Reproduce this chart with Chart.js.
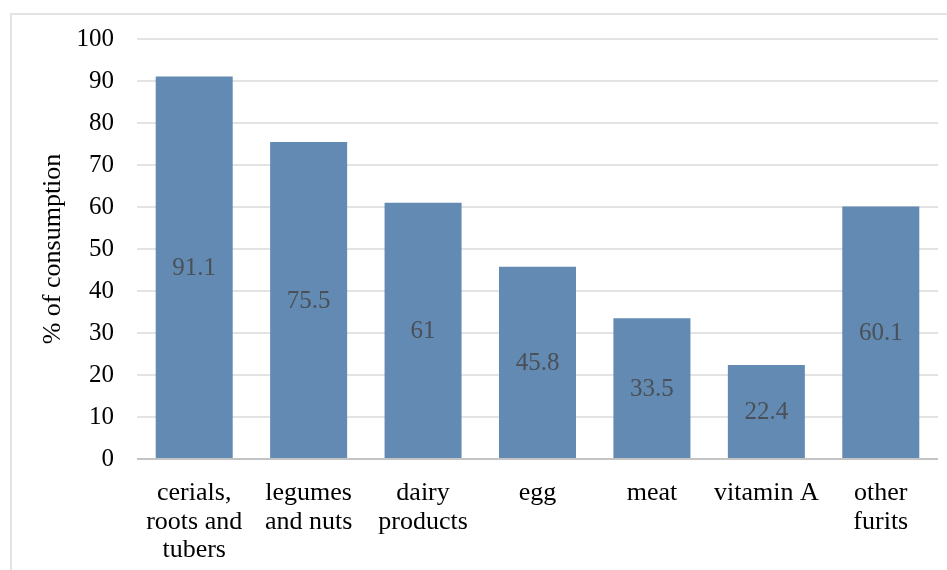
<!DOCTYPE html>
<html>
<head>
<meta charset="utf-8">
<script src="https://cdn.jsdelivr.net/npm/chart.js@4"></script>
<style>
  html, body { margin: 0; padding: 0; background: #fff; overflow: hidden; }
  #wrap { position: relative; width: 947px; height: 570px; }
  #frame { position: absolute; left: 10px; top: 13px; width: 960px; height: 600px;
           border-left: 2px solid #e3e3e3; border-top: 2px solid #e3e3e3; }
  #c { position: absolute; left: 0; top: 0; }
</style>
</head>
<body>
<div id="wrap">
  <div id="frame"></div>
  <canvas id="c" width="947" height="570"></canvas>
</div>
<script>
var categories = [
	['cerials,', 'roots and', 'tubers'],
	['legumes', 'and nuts'],
	['dairy', 'products'],
	'egg',
	'meat',
	'vitamin A',
	['other', 'furits']
];
var consumption = [91.1, 75.5, 61, 45.8, 33.5, 22.4, 60.1];
var valueText = ['91.1', '75.5', '61', '45.8', '33.5', '22.4', '60.1'];
var yTicks = [0, 10, 20, 30, 40, 50, 60, 70, 80, 90, 100];

var serif = "'Liberation Serif', 'Times New Roman', serif";

// write the number in the middle of each bar
var barValues = {
	id: 'barValues',
	afterDatasetsDraw: function(chart) {
		var ctx = chart.ctx;
		var meta = chart.getDatasetMeta(0);
		ctx.save();
		ctx.font = '25px ' + serif;
		ctx.fillStyle = '#4a5058';
		ctx.textAlign = 'center';
		ctx.textBaseline = 'middle';
		meta.data.forEach(function(bar, i) {
			ctx.fillText(valueText[i], bar.x, (bar.y + bar.base) / 2 + 1);
		});
		ctx.restore();
	}
};

var chart = new Chart(document.getElementById('c'), {
	type: 'bar',
	data: {
		labels: categories,
		datasets: [{
			data: consumption,
			backgroundColor: 'rgb(98,138,178)',
			borderWidth: 0,
			categoryPercentage: 1,
			barPercentage: 0.673
		}]
	},
	options: {
		responsive: false,
		animation: false,
		events: [],
		layout: { padding: { top: 39, right: 9, left: 0, bottom: 0 } },
		plugins: {
			legend: { display: false },
			tooltip: { enabled: false }
		},
		scales: {
			x: {
				grid: { display: false },
				border: { display: false },
				ticks: {
					color: '#000',
					padding: 12,
					maxRotation: 0,
					autoSkip: false,
					font: { family: serif, size: 26, lineHeight: 1.1 }
				},
				afterFit: function(scale) { scale.height = 111; }
			},
			y: {
				min: 0,
				max: 100,
				afterBuildTicks: function(scale) {
					scale.ticks = yTicks.map(function(v) { return { value: v }; });
				},
				border: { display: false },
				grid: {
					drawTicks: false,
					lineWidth: 2,
					color: function(c) { return c.index === 0 ? '#c4c4c4' : '#e3e3e3'; }
				},
				ticks: {
					color: '#000',
					padding: 23,
					font: { family: serif, size: 25 }
				},
				title: {
					display: true,
					text: '% of consumption',
					color: '#000',
					padding: { top: 38, bottom: 0 },
					font: { family: serif, size: 26, lineHeight: 1.2 }
				},
				afterFit: function(scale) { scale.width = 137; }
			}
		}
	},
	plugins: [barValues]
});
</script>
</body>
</html>
